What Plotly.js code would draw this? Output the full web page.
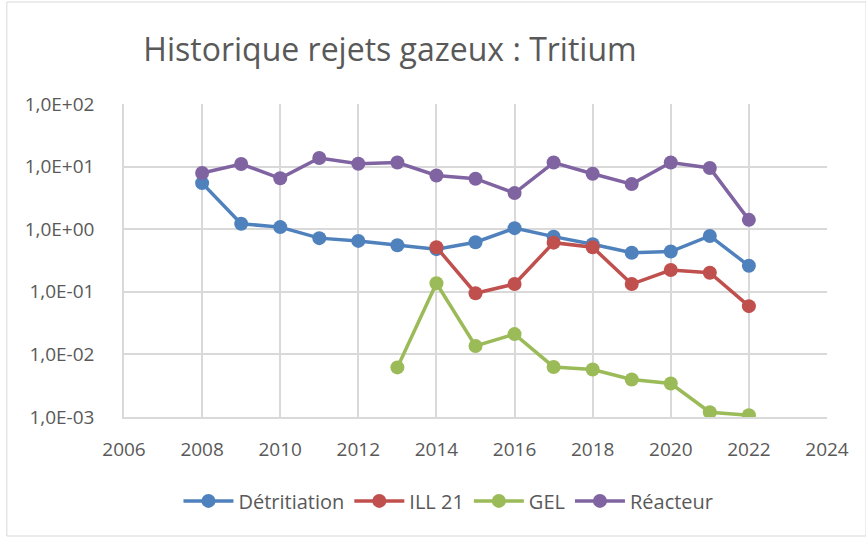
<!DOCTYPE html>
<html><head><meta charset="utf-8">
<script src="https://cdn.plot.ly/plotly-3.0.1.min.js"></script>
<style>body{margin:0;background:#fff}#c{width:866px;height:537px}</style>
</head><body><div id="c"></div>
<script>
const years = [2008,2009,2010,2011,2012,2013,2014,2015,2016,2017,2018,2019,2020,2021,2022];
const detritiation = [5.45,1.22,1.08,0.72,0.65,0.555,0.48,0.62,1.04,0.76,0.575,0.42,0.44,0.78,0.26];
const ill21Years = [2014,2015,2016,2017,2018,2019,2020,2021,2022];
const ill21 = [0.515,0.095,0.133,0.61,0.515,0.133,0.223,0.202,0.059];
const gelYears = [2013,2014,2015,2016,2017,2018,2019,2020,2021,2022];
const gel = [0.0062,0.137,0.0136,0.0211,0.0063,0.00575,0.00398,0.00343,0.00119,0.00107];
const reacteur = [7.9,11,6.5,13.7,11.1,11.6,7.2,6.4,3.77,11.6,7.7,5.25,11.6,9.5,1.41];
const yTickVals = [0.001,0.01,0.1,1,10,100];
const yTickText = ['1,0E-03','1,0E-02','1,0E-01','1,0E+00','1,0E+01','1,0E+02'];
const xTickVals = [2006,2008,2010,2012,2014,2016,2018,2020,2022,2024];

const mk = (name, x, y, color) => ({
  type:'scatter', mode:'lines+markers', name, x, y,
  line:{color, width:3.5}, marker:{color, size:14},
});
const data = [
  mk('Détritiation', years, detritiation, '#4F81BD'),
  mk('ILL 21', ill21Years, ill21, '#C0504D'),
  mk('GEL', gelYears, gel, '#9BBB59'),
  mk('Réacteur', years, reacteur, '#8064A2'),
];
const font = {family:'Open Sans, sans-serif', color:'#595959', size:19};
const layout = {
  width:866, height:537,
  margin:{l:124, r:39, t:104, b:120},
  paper_bgcolor:'#fff', plot_bgcolor:'#fff',
  font,
  title:{text:'Historique rejets gazeux : Tritium', font:{family:'Open Sans, sans-serif', size:32, color:'#595959'}, x:390/866, xanchor:'center', xref:'container', y:1-50/537, yanchor:'middle', yref:'container'},
  xaxis:{range:[2006,2024], tickvals:xTickVals, ticktext:xTickVals.map(String),
    showgrid:true, gridcolor:'#d9d9d9', gridwidth:1.5, showline:true, linecolor:'#d9d9d9', linewidth:1.5, zeroline:false, ticks:'', tickfont:font, ticklabelstandoff:14},
  yaxis:{type:'log', range:[-3,2], tickvals:yTickVals, ticktext:yTickText, showgrid:true, gridcolor:'#d9d9d9', gridwidth:1.5,
    showline:true, linecolor:'#d9d9d9', linewidth:1.5, zeroline:false, ticks:'', tickfont:font, ticklabelstandoff:24},
  showlegend:true,
  legend:{orientation:'h', x:(448-124)/702, xanchor:'center', y:-0.268, yanchor:'middle', font:{family:'Open Sans, sans-serif', size:20, color:'#595959'}, itemwidth:50},
  shapes:[{type:'rect', xref:'paper', yref:'paper', x0:(7-124)/702, x1:(865-124)/702, y0:(417-536)/313, y1:(417-2)/313, line:{color:'#d9d9d9', width:1}, fillcolor:'rgba(0,0,0,0)'}],
};
Plotly.newPlot('c', data, layout, {displayModeBar:false});
</script></body></html>
